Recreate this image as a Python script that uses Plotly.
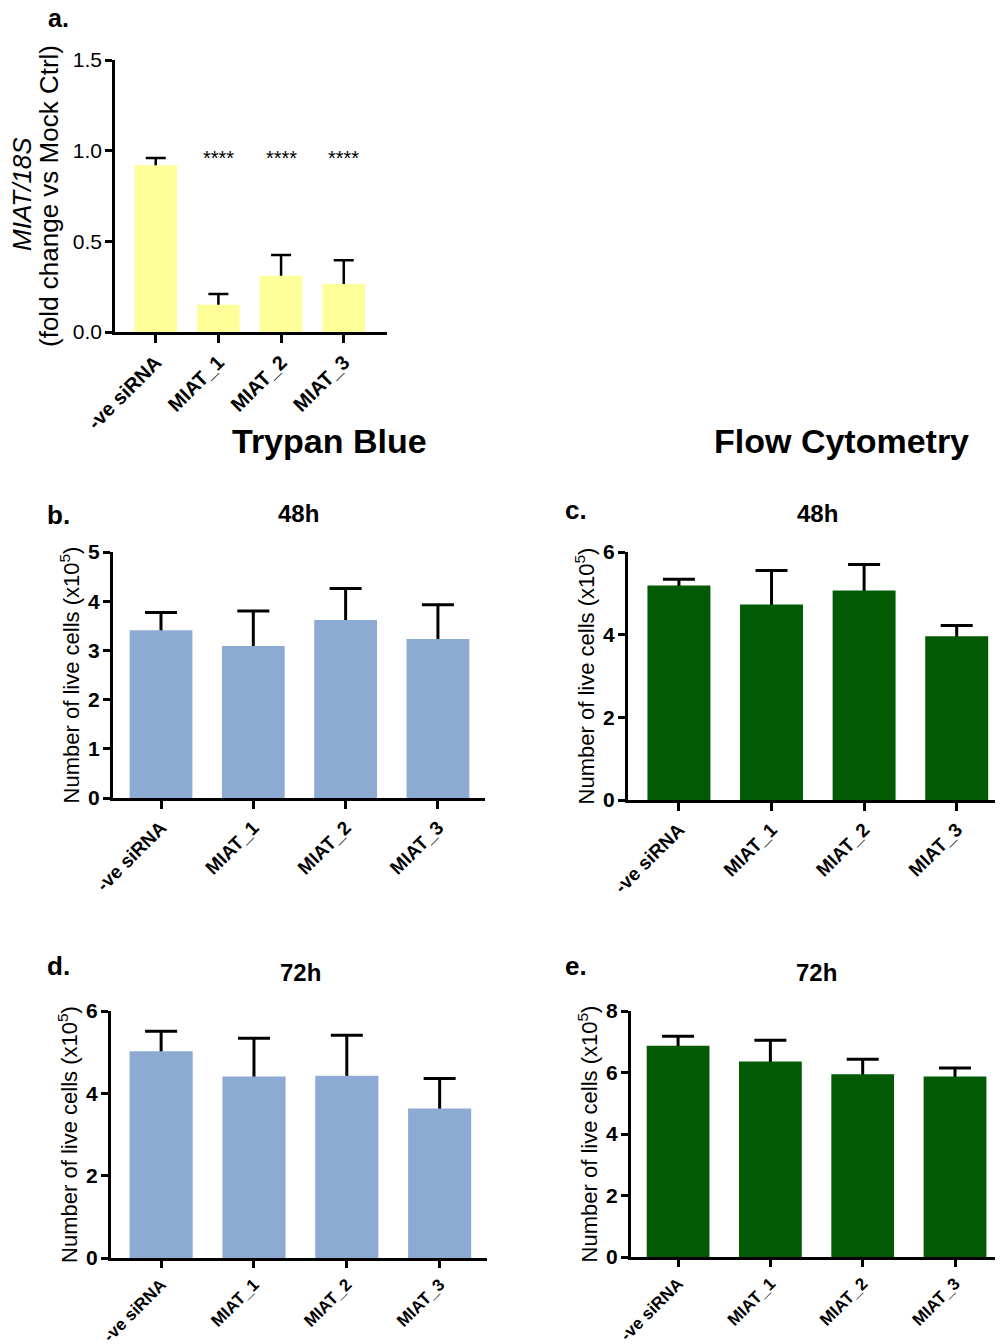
import plotly.graph_objects as go

# ---------------- data ----------------
categories = ["-ve siRNA", "MIAT_1", "MIAT_2", "MIAT_3"]

a_vals = [0.92, 0.15, 0.31, 0.265]
a_err = [0.04, 0.06, 0.115, 0.13]
a_sig = ["", "****", "****", "****"]

b_vals = [3.41, 3.09, 3.62, 3.23]
b_err = [0.36, 0.71, 0.64, 0.70]

c_vals = [5.19, 4.73, 5.07, 3.96]
c_err = [0.15, 0.82, 0.63, 0.26]

d_vals = [5.02, 4.41, 4.43, 3.63]
d_err = [0.49, 0.93, 0.98, 0.73]

e_vals = [6.87, 6.36, 5.94, 5.87]
e_err = [0.31, 0.69, 0.49, 0.28]

a_ticks = [0, 0.5, 1.0, 1.5]
b_ticks = [0, 1, 2, 3, 4, 5]
cd_ticks = [0, 2, 4, 6]
e_ticks = [0, 2, 4, 6, 8]

# ---------------- layout helpers ----------------
W, H = 1003, 1344
OFF = 8  # page body margin in the browser
FONT = "Liberation Sans, Arial, Helvetica, sans-serif"
YELLOW = "#FFFF99"
BLUE = "#8CAAD2"
GREEN = "#025A05"


def px(x):
    return (x - OFF) / W


def py(y):
    return 1 - (y - OFF) / H


fig = go.Figure()

panels = [
    dict(vals=a_vals, err=a_err, color=YELLOW, x0=115, x1=387, yt=60, yb=332,
         yr=[0, 1.5], ticks=a_ticks, xr=[-0.65, 3.69], cap=10, lw=2.5,
         title="(fold change vs Mock Ctrl)", tsize=26,
         tickfmt=".1f", bold=False, xsize=20, standoff=7, xticklen=8),
    dict(vals=b_vals, err=b_err, color=BLUE, x0=113, x1=485, yt=552, yb=798,
         yr=[0, 5], ticks=b_ticks, xr=[-0.52, 3.51], cap=16, lw=3,
         title="Number of live cells (x10<sup>5</sup>)", tsize=22,
         tickfmt="d", bold=True, xsize=19, standoff=3, xticklen=8),
    dict(vals=c_vals, err=c_err, color=GREEN, x0=628, x1=1003, yt=552, yb=800,
         yr=[0, 6], ticks=cd_ticks, xr=[-0.55, 3.50], cap=16, lw=3,
         title="Number of live cells (x10<sup>5</sup>)", tsize=22,
         tickfmt="d", bold=True, xsize=19, standoff=3, xticklen=8),
    dict(vals=d_vals, err=d_err, color=BLUE, x0=111, x1=487, yt=1011, yb=1258,
         yr=[0, 6], ticks=cd_ticks, xr=[-0.54, 3.51], cap=16, lw=3,
         title="Number of live cells (x10<sup>5</sup>)", tsize=22,
         tickfmt="d", bold=True, xsize=17, standoff=3, xticklen=7),
    dict(vals=e_vals, err=e_err, color=GREEN, x0=631, x1=1003, yt=1011, yb=1257,
         yr=[0, 8], ticks=e_ticks, xr=[-0.51, 3.52], cap=16, lw=3,
         title="Number of live cells (x10<sup>5</sup>)", tsize=22,
         tickfmt="d", bold=True, xsize=17, standoff=3, xticklen=7),
]

layout = dict(
    width=W, height=H, autosize=False,
    margin=dict(l=0, r=0, t=0, b=0, pad=0, autoexpand=False),
    paper_bgcolor="white", plot_bgcolor="white",
    showlegend=False,
    font=dict(family=FONT, color="black"),
    barmode="overlay",
)

for i, p in enumerate(panels):
    n = "" if i == 0 else str(i + 1)
    xa, ya = "x" + n, "y" + n
    # small pixel offset in data units so that the lower end of the one-sided
    # error bar is hidden under the bar drawn on top of it
    ppu = (p["yb"] - p["yt"]) / (p["yr"][1] - p["yr"][0])
    delta = 3.5 / ppu
    fig.add_trace(go.Bar(
        x=categories, y=[v - delta for v in p["vals"]], xaxis=xa, yaxis=ya,
        marker=dict(color="rgba(0,0,0,0)", line=dict(width=0)),
        width=0.68,
        error_y=dict(type="data", array=[e + delta for e in p["err"]],
                     arrayminus=[0] * len(p["err"]), symmetric=False,
                     color="black", thickness=p["lw"], width=p["cap"], visible=True),
        hoverinfo="skip",
    ))
    fig.add_trace(go.Bar(
        x=categories, y=p["vals"], xaxis=xa, yaxis=ya,
        marker=dict(color=p["color"], line=dict(width=0)),
        width=0.68, hoverinfo="skip",
    ))
    tickfont = dict(family=FONT, size=21, color="black")
    if p["bold"]:
        tickfont["weight"] = "bold"
    layout["xaxis" + n] = dict(
        domain=[px(p["x0"]), px(p["x1"])], anchor=ya,
        type="category", range=p["xr"], automargin=False,
        showline=True, linecolor="black", linewidth=p["lw"],
        ticks="outside", ticklen=p["xticklen"], tickwidth=p["lw"], tickcolor="black",
        tickangle=-45, showgrid=False, zeroline=False,
        tickfont=dict(family=FONT, size=p["xsize"], color="black", weight="bold"),
    )
    layout["yaxis" + n] = dict(
        domain=[py(p["yb"]), py(p["yt"])], anchor=xa, automargin=False,
        range=p["yr"], tickvals=p["ticks"], tickformat=p["tickfmt"],
        showline=True, linecolor="black", linewidth=p["lw"],
        ticks="outside", ticklen=7, tickwidth=p["lw"], tickcolor="black",
        ticklabelstandoff=-1,
        showgrid=False, zeroline=False,
        tickfont=tickfont,
        title=dict(text=p["title"], font=dict(family=FONT, size=p["tsize"], color="black"),
                   standoff=p["standoff"]),
    )

fig.update_layout(**layout)

# first line of the panel-a y title (italic gene ratio)
fig.add_annotation(x=px(22), y=py(194), xref="paper", yref="paper",
                   text="<i>MIAT/18S</i>", textangle=-90, showarrow=False,
                   xanchor="center", yanchor="middle",
                   font=dict(family=FONT, size=26, color="black"))

# significance stars on panel a
for cat, s in zip(categories, a_sig):
    if s:
        fig.add_annotation(x=cat, y=0.96, xref="x", yref="y", text=s, showarrow=False,
                           font=dict(family=FONT, size=20, color="black"), yanchor="middle")

# panel letters, headers, sub-titles
texts = [
    ("a.", 58, 18, 25),
    ("b.", 58, 515, 26),
    ("c.", 576, 510, 26),
    ("d.", 58, 966, 26),
    ("e.", 576, 966, 26),
    ("Trypan Blue", 329, 441, 34),
    ("Flow Cytometry", 841, 441, 34),
    ("48h", 298, 513, 24),
    ("48h", 817, 513, 24),
    ("72h", 300, 972, 24),
    ("72h", 816, 972, 24),
]
for t, x, y, s in texts:
    fig.add_annotation(x=px(x), y=py(y), xref="paper", yref="paper", text=t,
                       showarrow=False, xanchor="center", yanchor="middle",
                       font=dict(family=FONT, size=s, color="black", weight="bold"))

fig.write_html("out.html")
